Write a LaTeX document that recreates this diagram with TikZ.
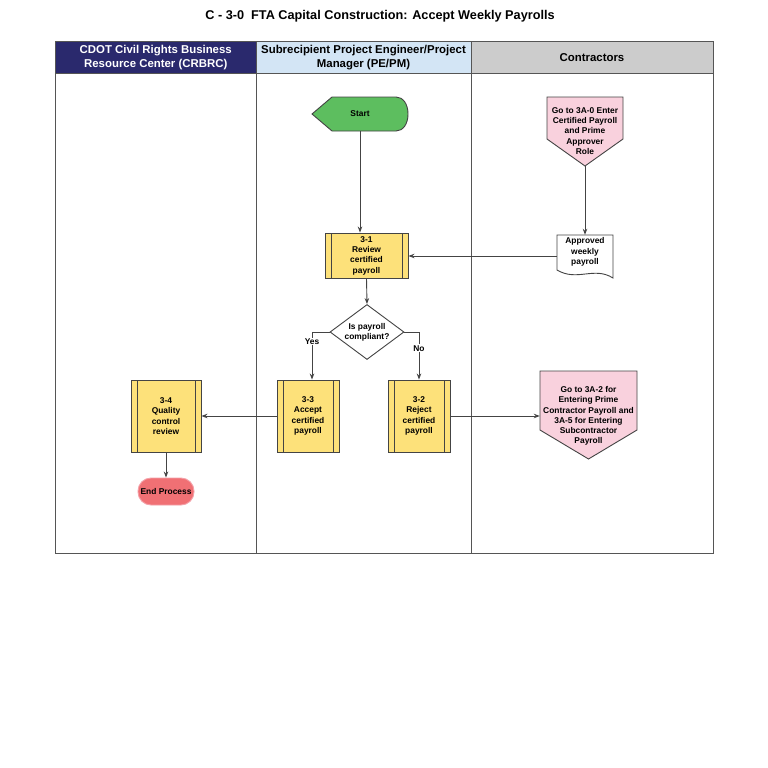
\documentclass[tikz,border=0pt]{standalone}
\usepackage{fontspec}
\setmainfont{Liberation Sans}
\usetikzlibrary{arrows.meta,shapes.geometric,calc}
\definecolor{navy}{HTML}{2A296D}
\definecolor{lblue}{HTML}{D3E5F5}
\definecolor{lgray}{HTML}{CCCCCC}
\definecolor{gridc}{HTML}{555555}
\definecolor{linec}{HTML}{444444}
\definecolor{yel}{HTML}{FDE17A}
\definecolor{grn}{HTML}{5DBE5F}
\definecolor{pnk}{HTML}{F9D1DD}
\definecolor{redf}{HTML}{F07074}
\definecolor{redb}{HTML}{F4A0A8}
\begin{document}
\begin{tikzpicture}[x=1pt,y=-1pt,
  txt/.style={font=\fontsize{8.4}{10.3}\selectfont\bfseries, align=center, text=black},
  hdr/.style={font=\fontsize{11.4}{13.5}\selectfont\bfseries, align=center},
  procbox/.style={txt, draw=linec, fill=yel, line width=0.9pt, inner sep=0pt,
    path picture={
      \draw[linec, line width=0.9pt] ([xshift=6pt]path picture bounding box.north west) -- ([xshift=6pt]path picture bounding box.south west);
      \draw[linec, line width=0.9pt] ([xshift=-6pt]path picture bounding box.north east) -- ([xshift=-6pt]path picture bounding box.south east);}},
  shapeline/.style={draw=linec, line width=0.9pt},
  conn/.style={draw=linec, line width=0.9pt, -{Stealth[length=6pt,width=4.5pt]}}
]
\useasboundingbox (0,0) rectangle (768,768);
\fill[white] (0,0) rectangle (768,768);

% title
\node[font=\fontsize{12.7}{14}\selectfont\bfseries] (title) at (380,16) {C - 3-0\ \ FTA Capital Construction: Accept Weekly Payrolls};

% headers
\fill[navy] (55.5,41.5) rectangle (256,73.5);
\fill[lblue] (256,41.5) rectangle (471,73.5);
\fill[lgray] (471,41.5) rectangle (713,73.5);
\node[hdr, text=white] (h1) at (155.75,57.5) {CDOT Civil Rights Business\\Resource Center (CRBRC)};
\node[hdr] (h2) at (363.5,57.5) {Subrecipient Project Engineer/Project\\Manager (PE/PM)};
\node[hdr] (h3) at (592,57.5) {Contractors};
\draw[gridc, line width=1pt] (55.5,41.5) rectangle (713,553);
\draw[gridc, line width=1pt] (55.5,73.5) -- (713,73.5);
\draw[gridc, line width=1pt] (256,41.5) -- (256,553);
\draw[gridc, line width=1pt] (471,41.5) -- (471,553);

% Start
\fill[grn] (312,114) -- (332,97) -- (396,97) .. controls (403,97) and (408,104) .. (408,114) .. controls (408,124) and (403,131) .. (396,131) -- (332,131) -- cycle;
\draw[shapeline] (312,114) -- (332,97) -- (396,97) .. controls (403,97) and (408,104) .. (408,114) .. controls (408,124) and (403,131) .. (396,131) -- (332,131) -- cycle;
\node[txt, minimum width=96, minimum height=34, inner sep=0pt] (start) at (360,114) {Start};

% pentagon 1
\filldraw[fill=pnk, draw=linec, line width=0.9pt] (547,97) -- (623,97) -- (623,139) -- (585,166) -- (547,139) -- cycle;
\node[txt, minimum width=76, minimum height=69, inner sep=0pt] (go1) at (585,131.5) {};
\node[txt] (go1t) at (585,131) {Go to 3A-0 Enter\\Certified Payroll\\and Prime\\Approver\\Role};

% document
\filldraw[fill=white, draw=linec, line width=0.9pt] (557,235) -- (613,235) -- (613,278) .. controls (594,266) and (577,282) .. (557,270) -- cycle;
\node[txt, minimum width=56, minimum height=42, inner sep=0pt] (doc) at (585,256) {};
\node[txt] (doct) at (585,252) {Approved\\weekly\\payroll};

% 3-1
\node[procbox, minimum width=83, minimum height=45] (p31) at (366.5,255.5) {3-1\\Review\\certified\\payroll};

% diamond
\node[txt, shape=diamond, draw=linec, fill=white, line width=0.9pt, inner sep=0pt, aspect=1.35, minimum width=74, minimum height=55] (dec) at (367,332) {Is payroll\\compliant?};

% 3-3, 3-2, 3-4
\node[procbox, minimum width=62, minimum height=72] (p33) at (308,416) {3-3\\Accept\\certified\\payroll};
\node[procbox, minimum width=62, minimum height=72] (p32) at (419,416) {3-2\\Reject\\certified\\payroll};
\node[procbox, minimum width=70, minimum height=72] (p34) at (166,416) {3-4\\Quality\\control\\review};

% pentagon 2
\filldraw[fill=pnk, draw=linec, line width=0.9pt] (540,371) -- (637,371) -- (637,430) -- (588.5,459) -- (540,430) -- cycle;
\node[txt, minimum width=97, minimum height=90, inner sep=0pt] (go2) at (588.5,416) {};
\node[txt] (go2t) at (588.5,416) {Go to 3A-2 for\\Entering Prime\\Contractor Payroll and\\3A-5 for Entering\\Subcontractor\\Payroll};

% End
\node[txt, draw=redb, fill=redf, line width=0.9pt, rounded corners=13pt, minimum width=56, minimum height=27, inner sep=0pt] (endp) at (166,491.5) {End Process};

% connectors
\draw[conn] (start.south) -- (start.south |- p31.north);
\draw[conn] (go1.south) -- (doc.north);
\draw[conn] (doc.west) -- (doc.west -| p31.east);
\draw[conn] (p31.south) -- (dec.north);
\draw[conn] (dec.west) -| node[txt, pos=0.6, fill=white, inner sep=1pt] {Yes} ([xshift=4pt]p33.north);
\draw[conn] (dec.east) -| node[txt, pos=0.67, fill=white, inner sep=1pt] {No} (p32.north);
\draw[conn] (p33.west) -- (p34.east);
\draw[conn] (p32.east) -- (go2.west);
\draw[conn] (p34.south) -- (endp.north);
\end{tikzpicture}
\end{document}
